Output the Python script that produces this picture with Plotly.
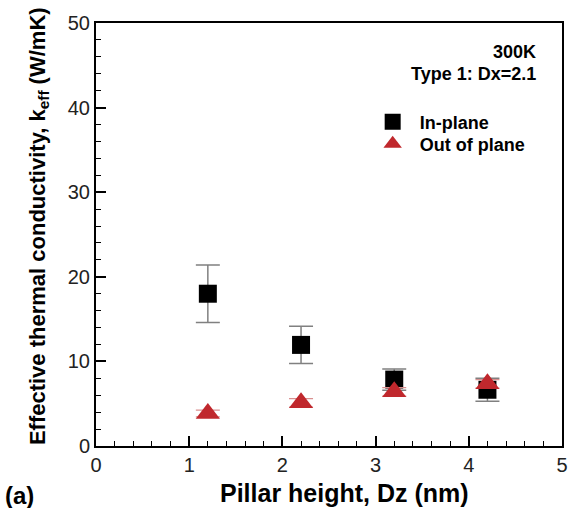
import plotly.graph_objects as go

pillar_height = [1.2, 2.2, 3.2, 4.2]
k_in_plane = [18.0, 11.95, 7.85, 6.65]
k_in_plane_err = [3.4, 2.2, 1.25, 1.35]
k_out_plane = [3.85, 5.1, 6.4, 7.35]
k_out_plane_err = [0.4, 0.5, 0.5, 0.5]

FONT = "Liberation Sans, Arial, Helvetica, sans-serif"

fig = go.Figure()
fig.add_trace(go.Scatter(
    x=pillar_height, y=k_in_plane, mode="markers", name="<b>In-plane</b>",
    marker=dict(symbol="square", size=18, color="black"),
    error_y=dict(type="data", array=k_in_plane_err, visible=True,
                 color="#808080", thickness=1.5, width=12),
    legend="legend",
))
fig.add_trace(go.Scatter(
    x=pillar_height, y=k_out_plane, mode="markers", name="<b>Out of plane</b>",
    marker=dict(symbol="triangle-up", size=21, color="#c0282d"),
    error_y=dict(type="data", array=k_out_plane_err, visible=True,
                 color="#d99090", thickness=1.2, width=12),
    legend="legend2",
))

axis_common = dict(
    showline=True, linecolor="black", linewidth=2, mirror=True,
    ticks="inside", ticklen=10, tickwidth=2, tickcolor="black",
    showgrid=False, zeroline=False,
    tickfont=dict(family=FONT, size=20, color="#222222"),
)
fig.update_xaxes(
    range=[0, 5], tickvals=[0, 1, 2, 3, 4, 5],
    minor=dict(ticks="inside", ticklen=5, tickwidth=1, tickcolor="black", dtick=0.2),
    **axis_common,
)
fig.update_yaxes(
    range=[0, 50], tickvals=[0, 10, 20, 30, 40, 50],
    minor=dict(ticks="inside", ticklen=5, tickwidth=1, tickcolor="black", dtick=2),
    **axis_common,
)

# axis titles (placed as annotations to match the reference offsets)
fig.add_annotation(xref="paper", yref="paper", x=0.534, y=-0.111, xanchor="center", yanchor="middle",
                   text="<b>Pillar height, Dz (nm)</b>", showarrow=False,
                   font=dict(family=FONT, size=25, color="black"))
fig.add_annotation(xref="paper", yref="paper", x=-0.1234, y=0.521, xanchor="center", yanchor="middle",
                   textangle=-90,
                   text="<b>Effective thermal conductivity, k<sub>eff</sub> (W/mK)</b>", showarrow=False,
                   font=dict(family=FONT, size=22, color="black"))

fig.add_annotation(xref="paper", yref="paper", x=0.949, y=0.931, xanchor="right", yanchor="middle",
                   text="<b>300K</b>", showarrow=False, font=dict(family=FONT, size=18, color="black"))
fig.add_annotation(xref="paper", yref="paper", x=0.949, y=0.880, xanchor="right", yanchor="middle",
                   text="<b>Type 1: Dx=2.1</b>", showarrow=False, font=dict(family=FONT, size=18, color="black"))
fig.add_annotation(xref="paper", yref="paper", x=-0.2, y=-0.116, xanchor="left", yanchor="middle",
                   text="<b>(a)</b>", showarrow=False, font=dict(family=FONT, size=24, color="black"))

legend_common = dict(x=0.5787, xanchor="left", yanchor="middle",
                     bgcolor="rgba(0,0,0,0)", font=dict(family=FONT, size=18, color="black"),
                     itemwidth=44, itemsizing="trace")
fig.update_layout(
    width=580, height=508,
    margin=dict(l=96, r=14, t=21, b=62),
    paper_bgcolor="white", plot_bgcolor="white",
    showlegend=True,
    legend=dict(y=0.766, **legend_common),
    legend2=dict(y=0.714, **legend_common),
)

fig.write_html("out.html")
